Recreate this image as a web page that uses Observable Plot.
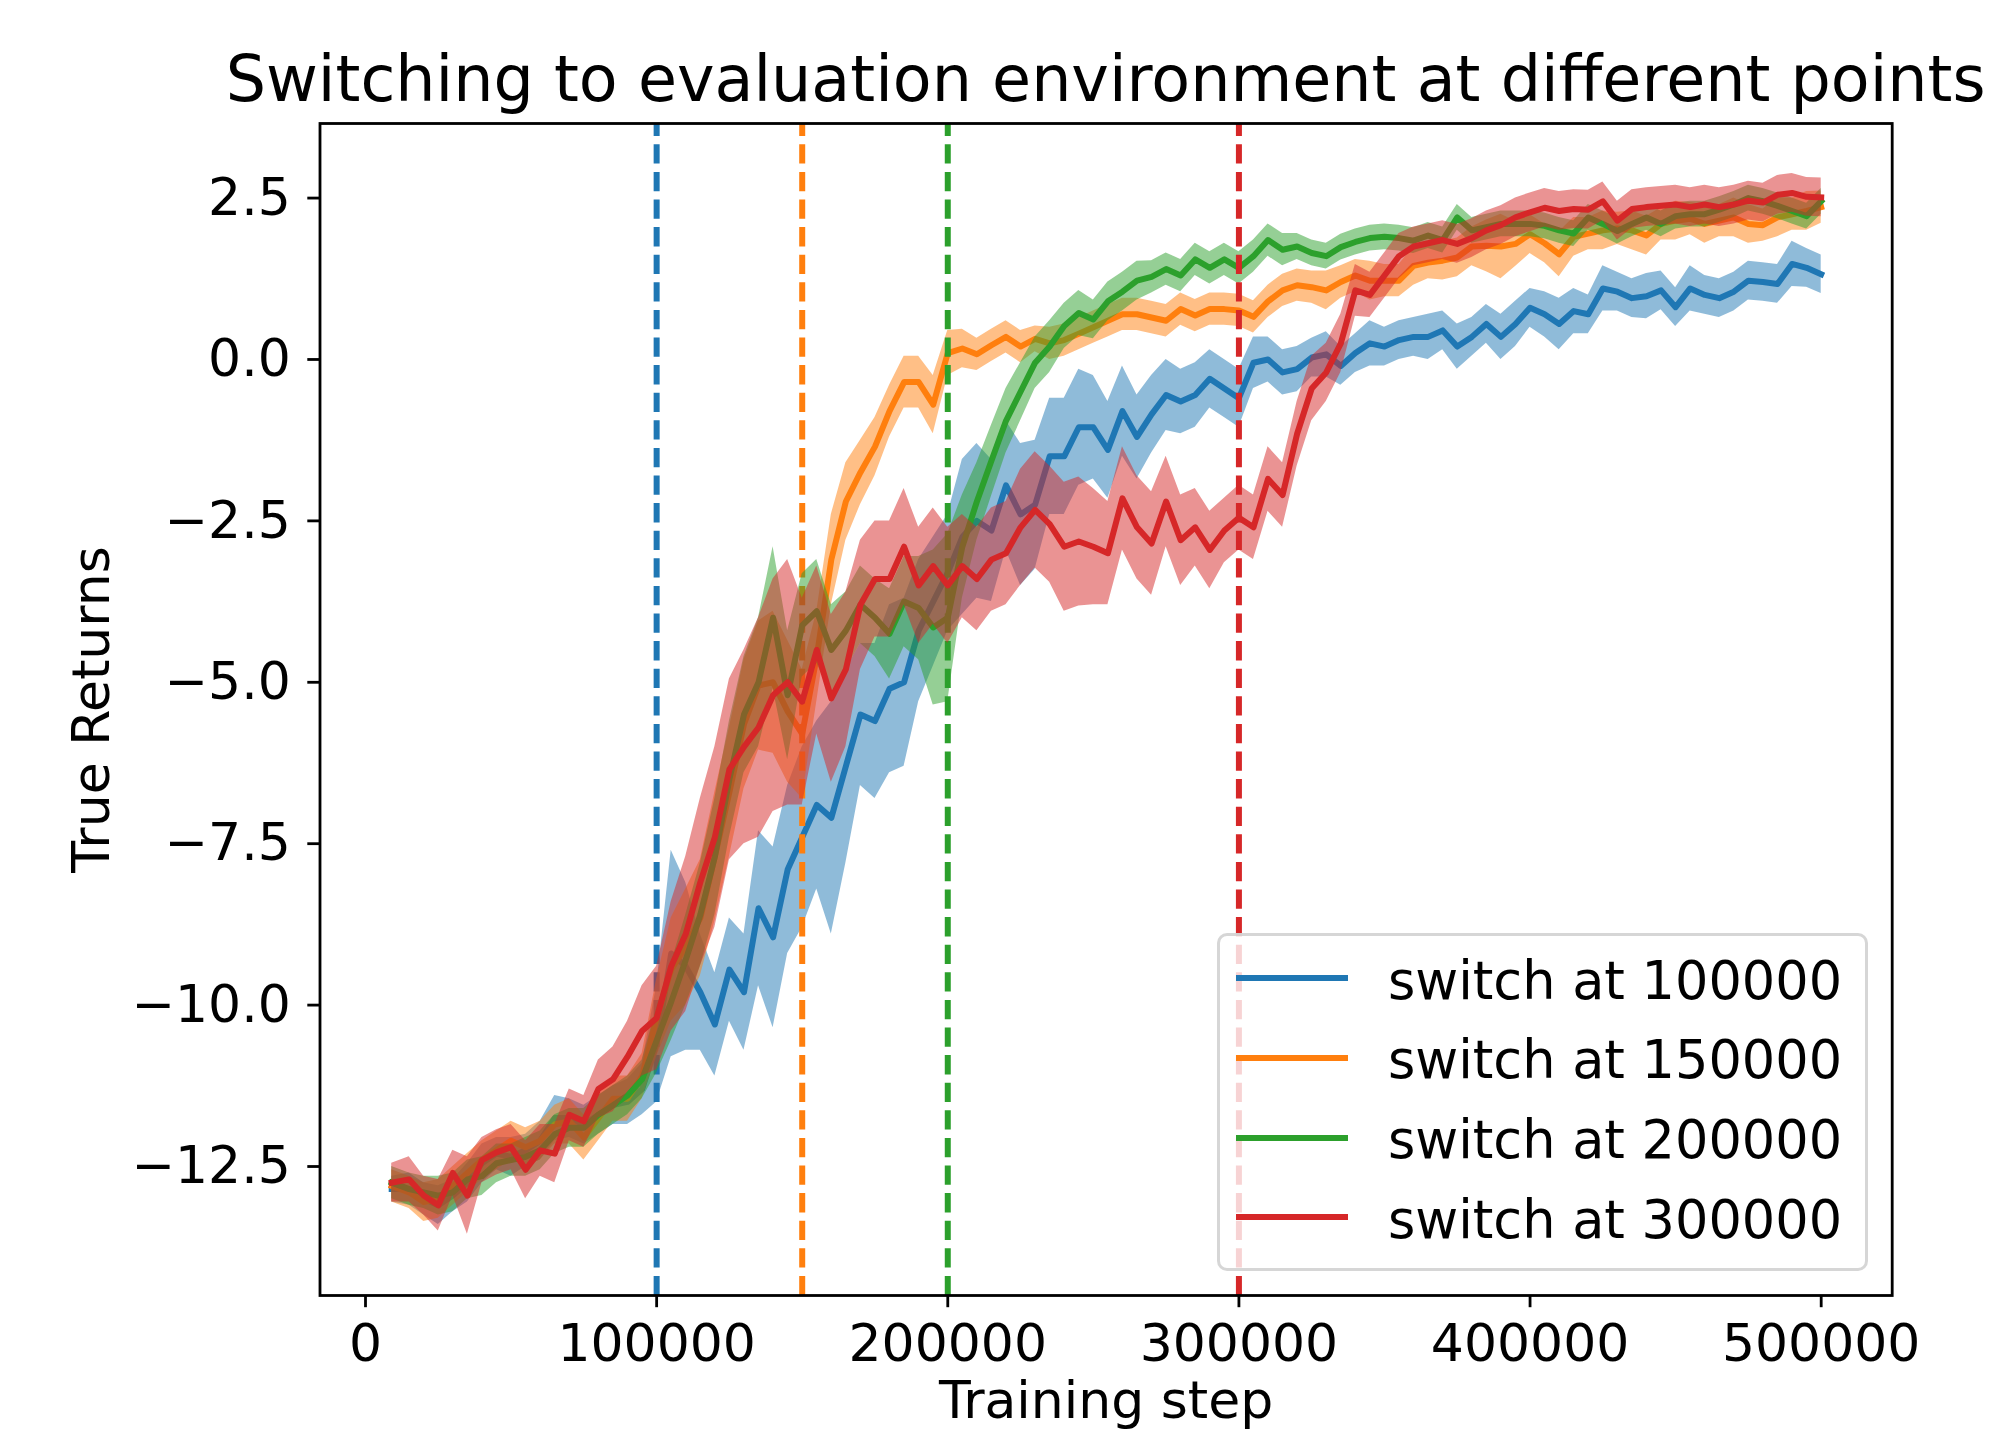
<!DOCTYPE html>
<html>
<head>
<meta charset="utf-8">
<script src="https://cdn.jsdelivr.net/npm/d3@7"></script>
<script src="https://cdn.jsdelivr.net/npm/@observablehq/plot@0.6"></script>
<style>
  html, body { margin: 0; padding: 0; background: #fff; overflow: hidden; }
  #wrap { position: relative; width: 1992px; height: 1431px; font-family: "DejaVu Sans", sans-serif; color: #000; }
  #title { position: relative; height: 113px; }
  #title span { position: absolute; left: 1105.6px; top: 48.2px; transform: translateX(-50%); font-size: 63.5px; line-height: 63.5px; white-space: nowrap; }
  #legend { position: absolute; left: 1217.1px; top: 933.3px; width: 650.6px; height: 337.7px; box-sizing: border-box;
            border: 3.5px solid rgba(204,204,204,0.8); border-radius: 10px; background: rgba(255,255,255,0.8); z-index: 2; }
  .lg-line { position: absolute; height: 6px; width: 111.6px; }
  .lg-text { position: absolute; font-size: 52.5px; line-height: 52.5px; white-space: nowrap; }
</style>
</head>
<body>
<div id="wrap">
  <div id="title"><span>Switching to evaluation environment at different points</span></div>
  <div id="chart"></div>
  <div id="legend"></div>
</div>
<script>
// ---------------- data ----------------
const steps = [9000,15000,20000,25000,30000,35000,40000,45000,50000,55000,
  60000,65000,70000,75000,80000,85000,90000,95000,100000,105000,
  110000,115000,120000,125000,130000,135000,140000,145000,150000,155000,
  160000,165000,170000,175000,180000,185000,190000,195000,200000,205000,
  210000,215000,220000,225000,230000,235000,240000,245000,250000,255000,
  260000,265000,270000,275000,280000,285000,290000,295000,300000,305000,
  310000,315000,320000,325000,330000,335000,340000,345000,350000,355000,
  360000,365000,370000,375000,380000,385000,390000,395000,400000,405000,
  410000,415000,420000,425000,430000,435000,440000,445000,450000,455000,
  460000,465000,470000,475000,480000,485000,490000,495000,500000];

const seriesNames = ["switch at 100000","switch at 150000","switch at 200000","switch at 300000"];
const switchPoints = [100000,150000,200000,300000];
const seriesColors = ["#1f77b4","#ff7f0e","#2ca02c","#d62728"];

const blueMean = [-12.85,-12.85,-13.0,-13.1,-12.95,-12.75,-12.45,-12.3,-12.35,-12.25,
  -12.1,-11.75,-11.75,-11.85,-11.7,-11.55,-11.5,-11.3,-10.6,-9.2,
  -9.4,-9.8,-10.3,-9.45,-9.8,-8.5,-8.95,-7.9,-7.4,-6.9,
  -7.1,-6.3,-5.5,-5.6,-5.1,-5.0,-4.2,-3.75,-3.3,-2.75,
  -2.5,-2.65,-1.95,-2.4,-2.25,-1.5,-1.5,-1.05,-1.05,-1.4,
  -0.8,-1.2,-0.85,-0.55,-0.65,-0.55,-0.3,-0.45,-0.6,-0.05,
  0.0,-0.2,-0.15,0.03,0.08,-0.1,0.1,0.25,0.2,0.3,
  0.35,0.35,0.45,0.2,0.35,0.55,0.35,0.55,0.8,0.7,
  0.55,0.75,0.7,1.1,1.05,0.95,0.98,1.07,0.81,1.1,
  1.0,0.95,1.05,1.22,1.2,1.17,1.48,1.42,1.32];
const blueBand = [0.2,0.25,0.25,0.3,0.25,0.3,0.3,0.25,0.3,0.25,
  0.3,0.35,0.3,0.3,0.3,0.3,0.35,0.4,0.9,1.6,
  1.3,0.9,0.8,0.8,0.9,1.2,1.4,1.3,1.4,1.3,
  1.8,1.5,1.1,1.2,1.3,1.3,1.1,1.0,0.9,1.2,
  1.2,1.1,1.0,1.1,1.0,0.9,0.9,0.9,0.8,0.75,
  0.7,0.65,0.6,0.55,0.5,0.5,0.45,0.45,0.45,0.4,
  0.35,0.35,0.35,0.3,0.35,0.3,0.3,0.35,0.3,0.3,
  0.3,0.35,0.3,0.35,0.3,0.3,0.35,0.35,0.3,0.35,
  0.4,0.35,0.3,0.35,0.3,0.3,0.35,0.3,0.3,0.35,
  0.3,0.3,0.3,0.3,0.3,0.3,0.35,0.3,0.3];

const orangeMean = [-12.8,-12.9,-13.05,-13.0,-12.8,-12.6,-12.4,-12.25,-12.1,-12.2,
  -12.1,-11.85,-11.8,-12.05,-11.75,-11.45,-11.45,-11.1,-10.2,-9.45,
  -9.1,-8.65,-7.7,-6.7,-5.65,-5.05,-5.0,-5.45,-5.8,-4.6,
  -3.1,-2.2,-1.75,-1.35,-0.8,-0.35,-0.35,-0.7,0.1,0.17,
  0.08,0.22,0.35,0.2,0.32,0.25,0.3,0.4,0.5,0.6,
  0.7,0.7,0.65,0.6,0.78,0.68,0.78,0.78,0.76,0.66,
  0.9,1.07,1.15,1.12,1.07,1.2,1.3,1.22,1.22,1.22,
  1.45,1.5,1.53,1.58,1.75,1.76,1.75,1.79,1.94,1.8,
  1.63,1.9,1.95,2.0,2.03,2.0,1.92,2.1,2.15,2.18,
  2.1,2.15,2.2,2.1,2.08,2.2,2.25,2.3,2.36];
const orangeBand = [0.25,0.25,0.3,0.3,0.3,0.3,0.3,0.3,0.3,0.3,
  0.3,0.3,0.35,0.35,0.35,0.35,0.35,0.35,0.6,0.8,
  0.9,0.9,1.0,1.0,1.0,1.0,1.1,1.1,1.0,0.7,
  0.7,0.6,0.5,0.45,0.4,0.4,0.4,0.45,0.35,0.3,
  0.25,0.25,0.25,0.25,0.2,0.25,0.25,0.25,0.25,0.25,
  0.25,0.25,0.25,0.25,0.25,0.25,0.25,0.25,0.25,0.25,
  0.25,0.25,0.25,0.25,0.3,0.25,0.25,0.3,0.25,0.25,
  0.3,0.25,0.3,0.3,0.3,0.4,0.5,0.35,0.3,0.3,
  0.35,0.3,0.25,0.3,0.25,0.3,0.3,0.25,0.3,0.25,
  0.3,0.25,0.3,0.3,0.25,0.3,0.25,0.3,0.25];

const greenMean = [-12.75,-12.85,-12.9,-12.95,-12.9,-12.7,-12.65,-12.45,-12.4,-12.35,
  -12.25,-12.0,-11.9,-11.9,-11.7,-11.55,-11.4,-11.15,-10.55,-9.95,
  -9.3,-8.6,-7.7,-6.5,-5.5,-5.0,-4.0,-5.2,-4.12,-3.9,
  -4.5,-4.2,-3.8,-4.0,-4.25,-3.75,-3.85,-4.15,-4.0,-2.9,
  -2.2,-1.57,-0.95,-0.5,-0.05,0.2,0.52,0.72,0.62,0.9,
  1.05,1.22,1.28,1.4,1.3,1.55,1.42,1.55,1.42,1.6,
  1.85,1.7,1.75,1.65,1.6,1.74,1.82,1.88,1.9,1.88,
  1.84,1.92,1.85,2.2,2.0,2.05,2.1,2.1,2.1,2.07,
  2.0,1.95,2.2,2.1,1.99,2.1,2.2,2.1,2.22,2.25,
  2.25,2.32,2.4,2.5,2.45,2.38,2.3,2.22,2.45];
const greenBand = [0.25,0.25,0.25,0.3,0.3,0.3,0.3,0.3,0.25,0.3,
  0.3,0.3,0.3,0.3,0.3,0.3,0.3,0.3,0.5,0.6,
  0.7,0.8,0.9,0.9,0.9,1.0,1.1,1.0,0.8,0.8,
  0.7,0.6,0.6,0.6,0.7,0.7,0.8,1.2,1.3,0.8,
  0.6,0.55,0.5,0.45,0.4,0.4,0.35,0.35,0.3,0.3,
  0.3,0.3,0.25,0.25,0.25,0.25,0.25,0.25,0.25,0.25,
  0.25,0.25,0.2,0.2,0.2,0.2,0.2,0.2,0.2,0.2,
  0.2,0.2,0.2,0.2,0.2,0.2,0.2,0.2,0.2,0.2,
  0.2,0.2,0.2,0.2,0.2,0.2,0.2,0.2,0.2,0.2,
  0.2,0.2,0.2,0.2,0.2,0.2,0.2,0.2,0.2];

const redMean = [-12.75,-12.7,-12.95,-13.1,-12.6,-12.95,-12.4,-12.28,-12.2,-12.55,
  -12.25,-12.3,-11.7,-11.8,-11.3,-11.15,-10.8,-10.4,-10.2,-9.4,
  -8.9,-8.1,-7.4,-6.35,-6.0,-5.7,-5.2,-5.0,-5.3,-4.5,
  -5.25,-4.8,-3.8,-3.4,-3.4,-2.9,-3.5,-3.2,-3.5,-3.2,
  -3.4,-3.1,-3.0,-2.6,-2.33,-2.55,-2.9,-2.82,-2.9,-3.0,
  -2.15,-2.6,-2.85,-2.2,-2.8,-2.6,-2.95,-2.65,-2.45,-2.6,
  -1.85,-2.1,-1.15,-0.45,-0.2,0.25,1.07,1.0,1.3,1.6,
  1.75,1.8,1.85,1.79,1.88,2.0,2.08,2.2,2.28,2.35,
  2.3,2.33,2.32,2.45,2.15,2.33,2.36,2.38,2.4,2.36,
  2.4,2.36,2.4,2.46,2.43,2.55,2.58,2.52,2.51];
const redBand = [0.3,0.35,0.3,0.4,0.35,0.6,0.35,0.35,0.35,0.45,
  0.4,0.45,0.4,0.4,0.45,0.5,0.55,0.7,0.8,1.0,
  1.2,1.3,1.4,1.4,1.5,1.7,1.8,1.9,1.6,1.3,
  1.3,1.2,1.0,0.9,0.9,0.9,0.9,0.9,0.9,0.8,
  0.8,0.8,0.8,0.9,0.9,0.9,1.0,1.0,0.9,0.8,
  0.8,0.8,0.8,0.7,0.7,0.6,0.6,0.5,0.5,0.5,
  0.5,0.5,0.5,0.5,0.45,0.45,0.4,0.35,0.35,0.35,
  0.3,0.3,0.3,0.3,0.3,0.3,0.3,0.3,0.3,0.3,
  0.3,0.3,0.3,0.3,0.3,0.3,0.3,0.3,0.3,0.3,
  0.3,0.3,0.3,0.3,0.3,0.3,0.3,0.3,0.3];

const xTicks = [0,100000,200000,300000,400000,500000];
const yTicks = [-12.5,-10,-7.5,-5,-2.5,0,2.5];
const xLimits = [-15628, 524390];   // axis limits as drawn
const yLimits = [-14.498, 3.655];
const titleText = "Switching to evaluation environment at different points";
const xLabel = "Training step";
const yLabel = "True Returns";

// ---------------- build ----------------
const means = [blueMean, orangeMean, greenMean, redMean];
const bands = [blueBand, orangeBand, greenBand, redBand];
const LW = 6.0;

const marks = [];
seriesNames.forEach((name, k) => {
  const rows = steps.map((x, i) => ({x, y: means[k][i], lo: means[k][i] - bands[k][i], hi: means[k][i] + bands[k][i]}));
  marks.push(Plot.areaY(rows, {x: "x", y1: "lo", y2: "hi", fill: seriesColors[k], fillOpacity: 0.5}));
  marks.push(Plot.lineY(rows, {x: "x", y: "y", stroke: seriesColors[k], strokeWidth: LW, strokeLinejoin: "round", strokeLinecap: "square"}));
  marks.push(Plot.ruleX([switchPoints[k]], {stroke: seriesColors[k], strokeWidth: LW, strokeDasharray: "19.3,8.3", strokeDashoffset: 6.3}));
});

marks.push(Plot.frame({stroke: "black", strokeWidth: 2.8}));
marks.push(Plot.axisX({ticks: xTicks, tickFormat: d3.format("d"), tickSize: 12.2, tickPadding: 16.5, strokeWidth: 2.8, label: null, fontSize: 52}));
marks.push(Plot.axisY({ticks: yTicks, tickFormat: d3.format(".1f"), tickSize: 12.2, tickPadding: 17, strokeWidth: 2.8, label: null, fontSize: 52}));
marks.push(Plot.text([xLabel], {text: d => d, frameAnchor: "bottom", dy: 122, lineAnchor: "bottom", fontSize: 52}));
marks.push(Plot.text([yLabel], {text: d => d, frameAnchor: "left", rotate: -90, dx: -211.5, lineAnchor: "bottom", textAnchor: "middle", fontSize: 52}));

const chart = Plot.plot({
  width: 1992,
  height: 1318,
  marginLeft: 319.5,
  marginRight: 100.3,
  marginTop: 10,
  marginBottom: 136,
  style: {fontFamily: "'DejaVu Sans', sans-serif", fontSize: "52px", background: "white", color: "black", overflow: "visible"},
  x: {domain: xLimits},
  y: {domain: yLimits},
  marks
});
document.getElementById("chart").appendChild(chart);
document.querySelector("#title span").textContent = titleText;

// legend (matplotlib-style, lower right, semi-transparent)
const legend = document.getElementById("legend");
const lx = 1217.1, ly = 933.3;
seriesNames.forEach((name, k) => {
  const cy = 978.5 + 79.8 * k;
  const line = document.createElement("div");
  line.className = "lg-line";
  line.style.background = seriesColors[k];
  line.style.left = (1236.6 - lx - 3.5) + "px";
  line.style.top = (cy - 3 - ly - 3.5) + "px";
  legend.appendChild(line);
  const t = document.createElement("div");
  t.className = "lg-text";
  t.textContent = name;
  t.style.left = (1388.4 - lx - 3.5) + "px";
  t.style.top = (cy - 23.3 - ly - 3.5) + "px";
  legend.appendChild(t);
});
</script>
</body>
</html>
